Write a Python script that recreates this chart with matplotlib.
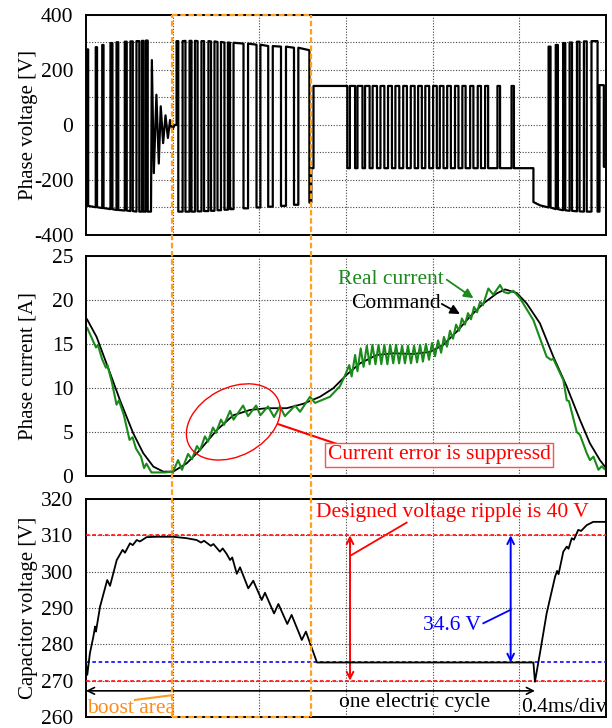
import numpy as np
import matplotlib
matplotlib.use("Agg")
import matplotlib.pyplot as plt
from matplotlib.lines import Line2D
from matplotlib.patches import Ellipse
from matplotlib.transforms import IdentityTransform, blended_transform_factory

plt.rcParams['font.family'] = ['Liberation Serif', 'DejaVu Serif']
plt.rcParams['axes.unicode_minus'] = False

# ---------------- phase voltage (ms, V) ----------------
# boost side: low base with positive pulses
A_start = [0.005, 0.045, 0.075, 0.113, 0.141, 0.179, 0.205, 0.233, 0.258, 0.276]
A_end = [0.010, 0.051, 0.081, 0.122, 0.149, 0.188, 0.216, 0.246, 0.265, 0.285]
A_base = [-294, -299, -302, -306, -309, -311, -313, -315, -315, -315]
A_top = [275, 283, 291, 298, 301, 303, 304, 305, 306, 307]
# ringing around zero
OSC_t = [0.300, 0.304, 0.313, 0.325, 0.336, 0.345, 0.356, 0.367, 0.378, 0.388, 0.398, 0.409, 0.418]
OSC_v = [-315, 236, -175, 110, -140, 68, -66, 35, -47, 18, -18, 0, 0]
# high base with negative pulses
B_start = [0.426, 0.459, 0.487, 0.515, 0.545, 0.577, 0.607, 0.639, 0.665, 0.727, 0.787, 0.841, 0.900, 0.960]
B_end = [0.446, 0.478, 0.503, 0.533, 0.565, 0.593, 0.623, 0.655, 0.681, 0.748, 0.805, 0.862, 0.923, 0.980]
B_hi = [305, 306, 306, 305, 305, 304, 302, 300, 299, 296, 292, 287, 285, 281]
B_lo = [-315, -315, -315, -314, -313, -312, -310, -308, -306, -303, -300, -297, -294, -290]
# three-level part (+142 / -157)
C_start = [1.218, 1.253, 1.288, 1.323, 1.359, 1.394, 1.428, 1.464, 1.499, 1.533, 1.566,
           1.602, 1.633, 1.667, 1.703, 1.737, 1.773, 1.808, 1.842, 1.899, 1.964]
C_end = [1.242, 1.276, 1.309, 1.343, 1.377, 1.412, 1.446, 1.481, 1.517, 1.550, 1.584,
         1.619, 1.650, 1.684, 1.719, 1.752, 1.788, 1.823, 1.856, 1.911, 1.975]
C_hi, C_lo = 142, -157
# low base with positive pulses again
D_start = [2.135, 2.168, 2.202, 2.232, 2.266, 2.298, 2.333]
D_end = [2.144, 2.178, 2.212, 2.243, 2.278, 2.311, 2.361]
D_base = [-300, -306, -310, -312, -314, -315, -315]
D_top = [285, 291, 298, 300, 303, 304, 305]

# ---------------- phase current (ms, A) ----------------
cmd_t = [0.005, 0.049, 0.111, 0.157, 0.218, 0.264, 0.311, 0.357, 0.403, 0.465, 0.526, 0.603,
         0.680, 0.757, 0.834, 0.926, 1.003, 1.080, 1.141, 1.203, 1.265, 1.342, 1.418, 1.511,
         1.588, 1.649, 1.711, 1.772, 1.834, 1.896, 1.934, 1.988, 2.034, 2.095, 2.157, 2.219,
         2.280, 2.326, 2.372, 2.400]
cmd_i = [17.8, 15.8, 11.7, 8.6, 4.85, 2.6, 1.06, 0.49, 0.5, 1.44, 2.95, 5.2,
         6.9, 7.5, 7.7, 7.7, 8.2, 9.0, 9.96, 11.5, 12.8, 13.75, 13.94, 13.86,
         14.1, 14.9, 16.4, 18.1, 19.6, 20.75, 21.2, 20.8, 19.6, 17.35, 13.55, 10.15,
         6.36, 3.7, 1.8, 0.9]
real_t = [0.006, 0.028, 0.046, 0.055, 0.074, 0.092, 0.099, 0.120, 0.141, 0.152, 0.175, 0.201,
          0.215, 0.231, 0.254, 0.268, 0.279, 0.302, 0.365, 0.402, 0.425, 0.443, 0.471, 0.489,
          0.512, 0.526, 0.549, 0.563, 0.586, 0.600, 0.623, 0.637, 0.665, 0.681, 0.725, 0.748,
          0.785, 0.805, 0.840, 0.868, 0.895, 0.918, 0.965, 0.988, 1.034, 1.057, 1.126, 1.172,
          1.195, 1.215, 1.226, 1.242, 1.253, 1.268, 1.281, 1.296, 1.309, 1.322, 1.336, 1.350,
          1.363, 1.377, 1.391, 1.404, 1.418, 1.431, 1.445, 1.459, 1.472, 1.486, 1.500, 1.514,
          1.528, 1.542, 1.555, 1.569, 1.583, 1.597, 1.611, 1.625, 1.639, 1.652, 1.666, 1.680,
          1.694, 1.708, 1.722, 1.735, 1.749, 1.763, 1.777, 1.791, 1.805, 1.819, 1.832, 1.857,
          1.880, 1.911, 1.929, 1.949, 1.972, 2.003, 2.065, 2.126, 2.146, 2.157, 2.203, 2.219,
          2.229, 2.265, 2.280, 2.311, 2.326, 2.342, 2.365, 2.380, 2.398]
real_i = [16.8, 15.6, 14.6, 14.9, 13.3, 12.3, 12.6, 10.6, 8.1, 8.6, 6.9, 4.1,
          4.4, 3.1, 2.2, 0.9, 1.4, 0.4, 0.4, 0.5, 1.8, 0.7, 2.5, 1.9,
          3.4, 2.9, 4.5, 3.9, 5.5, 4.9, 6.4, 5.8, 7.4, 6.4, 8.0, 6.8,
          8.0, 6.9, 7.9, 6.7, 7.9, 6.8, 8.0, 7.3, 9.0, 8.3, 9.0, 10.2,
          11.4, 12.6, 11.3, 13.75, 11.9, 14.5, 12.4, 14.8, 12.7, 14.9, 12.7, 14.9,
          12.7, 14.9, 12.7, 14.9, 12.8, 14.9, 12.8, 14.8, 12.8, 14.8, 12.8, 14.8,
          12.9, 14.9, 13.0, 15.0, 13.2, 15.1, 13.6, 15.4, 14.0, 15.8, 14.7, 16.5,
          15.6, 17.2, 16.5, 17.9, 17.2, 18.5, 17.8, 19.2, 18.6, 19.8, 19.4, 21.3,
          20.6, 21.7, 20.9, 20.75, 21.05, 20.2, 17.7, 13.55, 13.2, 13.3, 10.9, 8.6,
          8.5, 5.0, 4.66, 2.6, 1.8, 2.2, 0.7, 1.1, 0.7]

# ---------------- capacitor voltage (ms, V) ----------------
cap_t = [0.000, 0.006, 0.018, 0.034, 0.042, 0.046, 0.065, 0.098, 0.111, 0.142, 0.169, 0.180,
         0.203, 0.216, 0.234, 0.249, 0.280, 0.326, 0.403, 0.465, 0.511, 0.531, 0.545, 0.576,
         0.588, 0.618, 0.631, 0.649, 0.665, 0.675, 0.696, 0.711, 0.749, 0.772, 0.811, 0.826,
         0.868, 0.888, 0.929, 0.949, 0.996, 1.015, 1.066, 2.065, 2.072, 2.095, 2.126, 2.151,
         2.165, 2.174, 2.181, 2.203, 2.219, 2.227, 2.242, 2.252, 2.272, 2.285, 2.311, 2.341,
         2.400]
cap_v = [274.8, 271.6, 277.5, 282.1, 284.9, 283.5, 290.4, 297.7, 296.1, 303.2, 306.0, 305.2,
         307.8, 307.3, 308.7, 308.3, 309.5, 309.6, 309.6, 309.2, 308.7, 308.0, 308.5, 307.1,
         307.6, 305.5, 306.4, 304.9, 303.2, 303.9, 299.4, 301.2, 295.4, 297.5, 292.2, 294.2,
         288.5, 291.1, 285.6, 288.1, 281.2, 283.5, 275.0, 275.0, 269.7, 277.5, 288.5, 295.0,
         298.6, 300.2, 299.3, 305.5, 306.9, 306.3, 309.2, 308.8, 311.5, 311.2, 312.8, 313.7,
         313.7]


def pulse_train(starts, ends, base, top):
    x, y = [], []
    for s, e, b, t in zip(starts, ends, base, top):
        x += [s, s, e, e]
        y += [b, t, t, b]
    return x, y


# assemble phase voltage trace
vx, vy = [0.0], [-292]
px, py = pulse_train(A_start, A_end, A_base, A_top)
vx += px; vy += py
vx += OSC_t; vy += OSC_v
vx += [0.418]; vy += [305]
px, py = pulse_train(B_start, B_end, B_hi, B_lo)
vx += px; vy += py
vx += [1.031, 1.031, 1.040, 1.040, 1.050, 1.050, 1.206, 1.206]
vy += [272, -282, -282, C_lo, C_lo, C_hi, C_hi, C_lo]
px, py = pulse_train(C_start, C_end, [C_lo] * len(C_start), [C_hi] * len(C_start))
vx += px; vy += py
vx += [2.065, 2.065, 2.095]; vy += [C_lo, -280, -292]
px, py = pulse_train(D_start, D_end, D_base, D_top)
vx += px; vy += py
vx += [2.370, 2.370, 2.390, 2.390, 2.400]; vy += [-315, 145, 145, -152, -152]

fig = plt.figure(figsize=(6.12, 7.28), dpi=100)
ax1 = fig.add_axes([0.1405, 0.6772, 0.8497, 0.3022])
ax2 = fig.add_axes([0.1405, 0.3462, 0.8497, 0.3022])
ax3 = fig.add_axes([0.1405, 0.0151, 0.8497, 0.2995])

FS = 15.5
grid_kw = dict(color="#444444", ls=(0, (1, 1.5)), lw=0.8)
for ax in (ax1, ax2, ax3):
    ax.set_xlim(0, 2.4)
    ax.set_xticks(np.arange(0.4, 2.39, 0.4))
    ax.set_xticklabels([])
    ax.tick_params(axis="both", which="both", length=0, labelsize=FS, pad=9)
    for s in ax.spines.values():
        s.set_linewidth(1.4)
    ax.grid(True, which="both", **grid_kw)
    ax.set_axisbelow(True)

ax1.plot(vx, vy, color="black", lw=1.6)
ax1.set_ylim(-400, 400)
ax1.set_yticks([-400, -200, 0, 200, 400])
ax1.set_yticks(np.arange(-300, 301, 200), minor=True)
ax1.set_ylabel("Phase voltage [V]", fontsize=15)

ax2.plot(cmd_t, cmd_i, color="black", lw=1.3)
ax2.plot(real_t, real_i, color="#1a8a1a", lw=1.5)
ax2.set_ylim(0, 25)
ax2.set_yticks([0, 5, 10, 15, 20, 25])
ax2.set_ylabel("Phase current [A]", fontsize=15)

ax3.plot(cap_t, cap_v, color="black", lw=1.3, zorder=4)
ax3.set_ylim(260, 320)
ax3.set_yticks(np.arange(260, 321, 10))
ax3.set_ylabel("Capacitor voltage [V]", fontsize=15)

for ax in (ax1, ax2, ax3):
    ax.yaxis.set_label_coords(-0.093, 0.5)

# ---- annotations, current panel ----
ax2.text(1.408, 22.3, "Real current", color="#1a8a1a", fontsize=FS, ha="center", va="center")
ax2.annotate("", xy=(1.788, 20.2), xytext=(1.665, 22.3),
             arrowprops=dict(arrowstyle="-|>", color="#1a8a1a", lw=1.3, mutation_scale=14,
                             shrinkA=0, shrinkB=0))
ax2.text(1.431, 19.55, "Command", color="black", fontsize=FS, ha="center", va="center")
ax2.annotate("", xy=(1.726, 18.4), xytext=(1.642, 19.55),
             arrowprops=dict(arrowstyle="-|>", color="black", lw=1.3, mutation_scale=14,
                             shrinkA=0, shrinkB=0))
fig.canvas.draw()
cx, cy = ax2.transData.transform((0.680, 6.14))
fig.add_artist(Ellipse((cx, cy), 100, 68, angle=28, transform=IdentityTransform(),
                       fill=False, ec="red", lw=1.0, zorder=6))
ax2.plot([0.888, 1.172], [5.88, 3.52], color="red", lw=1.5)
ax2.text(1.629, 2.39, "Current error is suppressd", color="red", fontsize=FS,
         ha="center", va="center",
         bbox=dict(boxstyle="square,pad=0.1", fc="white", ec="#ff5050", lw=1.0))

# ---- annotations, capacitor panel ----
ax3.axhline(310, color="#ff1a1a", ls=(0, (2, 1.5)), lw=1.3, zorder=3)
ax3.axhline(270, color="#ff1a1a", ls=(0, (2, 1.5)), lw=1.3, zorder=3)
ax3.axhline(275, color="#1a1aff", ls=(0, (2, 1.5)), lw=1.3, zorder=3)
ax3.annotate("", xy=(1.2185, 310), xytext=(1.2185, 270),
             arrowprops=dict(arrowstyle="<->", color="red", lw=1.4, mutation_scale=12,
                             shrinkA=0, shrinkB=0))
ax3.annotate("", xy=(1.960, 310), xytext=(1.960, 275),
             arrowprops=dict(arrowstyle="<->", color="blue", lw=1.4, mutation_scale=12,
                             shrinkA=0, shrinkB=0))
ax3.plot([1.226, 1.480], [304.6, 313.5], color="red", lw=1.3)
ax3.text(1.689, 316.4, "Designed voltage ripple is 40 V", color="red", fontsize=FS,
         ha="center", va="center")
ax3.plot([1.834, 1.960], [285.8, 289.5], color="blue", lw=1.3)
ax3.text(1.688, 285.1, "34.6 V", color="blue", fontsize=FS, ha="center", va="center")
ax3.annotate("", xy=(2.072, 267.2), xytext=(0.0, 267.2),
             arrowprops=dict(arrowstyle="<->", color="black", lw=1.2, mutation_scale=12,
                             shrinkA=0, shrinkB=0))
ax3.text(1.518, 264.0, "one electric cycle", color="black", fontsize=FS, ha="center", va="center")
ax3.text(2.402, 262.6, "0.4ms/div", color="black", fontsize=FS, ha="right", va="center")
ax3.text(0.004, 262.4, "boost area", color="#ff8c1a", fontsize=FS, ha="left", va="center")
ax3.plot([0.226, 0.397], [264.7, 266.0], color="#ff9a1a", lw=1.5)

# ---- orange boost-area box spanning all panels ----
trans = blended_transform_factory(ax1.transData, fig.transFigure)
y_top = ax1.get_position().y1
y_bot = ax3.get_position().y0
x_l, x_r = 0.397, 1.037
box_kw = dict(color="#ffa01e", lw=1.6, ls=(0, (2.5, 1.2)), transform=trans,
              clip_on=False, zorder=10)
fig.add_artist(Line2D([x_l, x_l], [y_bot, y_top], **box_kw))
fig.add_artist(Line2D([x_r, x_r], [y_bot, y_top], **box_kw))
fig.add_artist(Line2D([x_l, x_r], [y_top, y_top], **box_kw))
fig.add_artist(Line2D([x_l, x_r], [y_bot, y_bot], **box_kw))

fig.savefig("out.png", dpi=100)
